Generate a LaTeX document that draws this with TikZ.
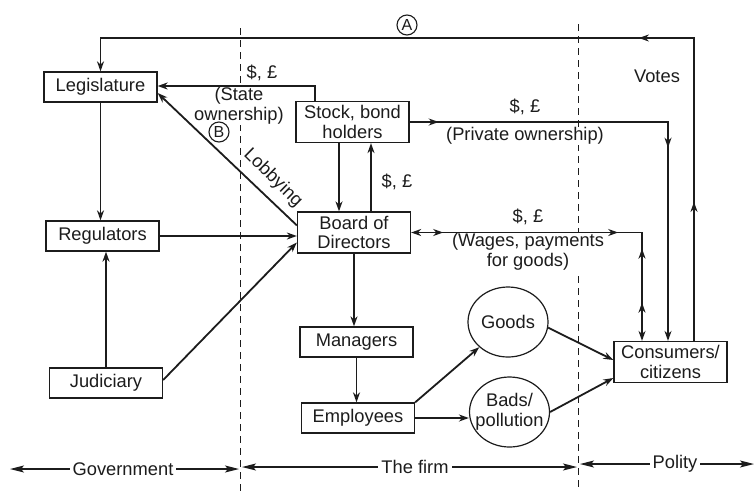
\documentclass[tikz,border=0pt]{standalone}
\usepackage{fontspec}
\setmainfont{Liberation Sans}
\usetikzlibrary{arrows.meta,shapes.geometric,decorations.markings,calc}

\definecolor{ink}{RGB}{28,28,28}

\begin{document}
\begin{tikzpicture}[x=1pt,y=-1pt,
  every node/.style={font=\fontsize{18.3}{19.5}\selectfont, text=ink},
  >={Stealth[length=10pt,width=7pt]},
  box/.style={draw=ink,line width=1.3pt,minimum width=113pt,minimum height=30pt,inner sep=4pt,align=center},
  blob/.style={draw=ink,line width=1.2pt,ellipse,minimum width=80pt,minimum height=70pt,inner sep=0pt},
  link/.style={draw=ink,line width=1.8pt},
  divider/.style={draw=ink,line width=1pt,dash pattern=on 7pt off 5pt},
  span/.style={draw=ink,line width=1.4pt,{Stealth[length=14pt,width=7pt,inset=3pt]}-{Stealth[length=14pt,width=7pt,inset=3pt]}},
  lbl/.style={fill=white,inner sep=0.5pt},
  circ/.style={circle,draw=ink,line width=1.1pt,inner sep=0pt,minimum size=20pt,font=\fontsize{16}{16}\selectfont},
  midtip/.style={postaction={decorate,decoration={markings,mark=at position #1 with {\arrow{>}}}}},
  midtiprev/.style={postaction={decorate,decoration={markings,mark=at position #1 with {\arrowreversed{>}}}}},
]
\fill[white] (0,0) rectangle (754,491);
\useasboundingbox (0,0) rectangle (754,491);

% sector boundaries
\draw[divider] (240,28) -- (240,491);
\draw[divider] (578,24) -- (578,491);

% flow labels (white ground hides the boundary lines behind them)
\node[circ] at (407,25) {A};
\node at (657,76) {Votes};
\node at (262,73) {\$, £};
\node[lbl,align=center] at (239,106) {(State\\ownership)};
\node[circ,fill=white] at (219,132) {B};
\node[rotate=-44.5] at (273,178) {Lobbying};
\node at (525,107) {\$, £};
\node[lbl] at (525,136) {(Private ownership)};
\node at (397,182) {\$, £};
\node at (528,217) {\$, £};
\node[lbl,align=center] at (528,252) {(Wages, payments\\for goods)};

% boxes
\node[box] (leg)   at (100.5,87)  {Legislature};
\node[box] (reg)   at (102.5,236) {Regulators};
\node[box] (jud)   at (106,383)   {Judiciary};
\node[box] (stock) at (352.5,122) {Stock, bond\\holders};
\node[box] (board) at (354,232.5) {Board of\\Directors};
\node[box] (mgr)   at (356.5,342) {Managers};
\node[box] (emp)   at (358,418)   {Employees};
\node[box] (cons)  at (670.5,362) {Consumers/\\citizens};
\node[blob] (goods) at (508,322) {};
\node[align=center] at (goods) {Goods};
\node[blob] (bads) at (509.5,412) {};
\node[align=center] at (bads) {Bads/\\pollution};

% votes loop (A)
\coordinate (votesfoot) at ([xshift=23.5pt]cons.north);
\coordinate (votesR) at (votesfoot |- 0,38);
\coordinate (votesL) at (leg.north |- 0,38);
\draw[link,->,midtip=139pt,midtip=358pt] (votesfoot) -- (votesR) -- (votesL) -- (leg.north);

% state ownership
\coordinate (soFoot) at ([xshift=-37.5pt]stock.north);
\coordinate (soTop) at (soFoot |- 0,86);
\draw[link,->] (soFoot) -- (soTop) -- (soTop -| leg.east);

% lobbying
\draw[link,->] ([yshift=-14pt]board.north west) -- ([yshift=-6pt]leg.east);

% private ownership
\coordinate (poCorner) at ([xshift=-2.5pt]cons.north |- stock.east);
\draw[link,->,midtip=29pt,midtip=284pt] (stock.east) -- (poCorner) -- (poCorner |- cons.north);

% wages, payments for goods
\coordinate (wCorner) at ([xshift=-28.5pt]cons.north |- board.east);
\draw[link,<->,midtip=32pt,midtip=207pt,midtiprev=247pt,midtiprev=301pt]
  (board.east) -- (wCorner) -- (wCorner |- cons.north);

% government side
\draw[link,->] (leg.south) -- (leg.south |- reg.north);
\draw[link,->] (jud.north) -- (jud.north |- reg.south);
\draw[link,->] (reg.east) -- (reg.east -| board.west);
\draw[link,->] ([yshift=3pt]jud.east) -- ([yshift=-10pt]board.west);

% within the firm
\coordinate (sbA) at ([xshift=-13.5pt]stock.south);
\draw[link,->] (sbA) -- (sbA |- board.north);
\coordinate (bsA) at ([xshift=17pt]board.north);
\draw[link,->] (bsA) -- (bsA |- stock.south);
\draw[link,->] (board.south) -- (board.south |- mgr.north);
\draw[link,->] (mgr.south) -- (mgr.south |- emp.north);
\draw[link,->] (emp.north east) -- (goods.south west);
\draw[link,->] (emp.east) -- (emp.east -| bads.west);
\draw[link,->] (goods.-8) -- ([yshift=2pt]cons.west);
\draw[link,->] (bads.east) -- ([yshift=-16pt]cons.west);

% sector spans
\coordinate (govL) at (10,469);
\coordinate (govR) at (239,469);
\draw[span] (govL) -- (govR);
\coordinate (firmL) at (242,467);
\coordinate (firmR) at (577,467);
\draw[span] (firmL) -- (firmR);
\coordinate (polL) at (580,464);
\coordinate (polR) at (754,464);
\draw[span] (polL) -- (polR);
\node[lbl,inner sep=3pt] at (123,469) {Government};
\node[lbl,inner sep=3pt] at (415,467) {The firm};
\node[lbl,inner sep=3pt] at (675,464) {Polity};
\end{tikzpicture}
\end{document}
